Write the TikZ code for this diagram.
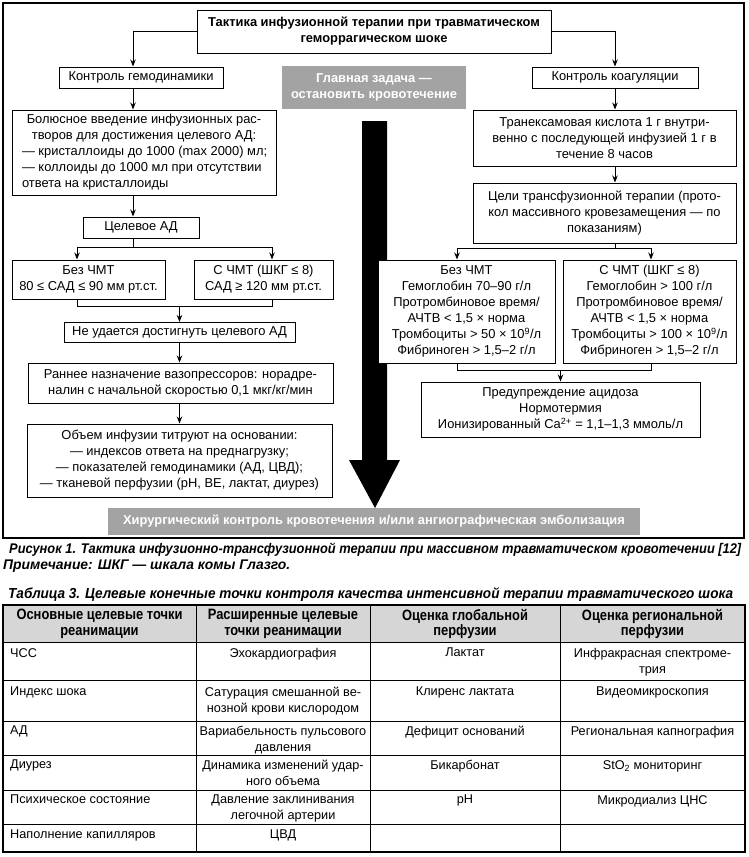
\documentclass[tikz,border=0pt]{standalone}
\usepackage{graphicx}
\usepackage{fontspec}
\setmainfont{Liberation Sans}
\newfontfamily\condfont[FakeStretch=0.86]{Liberation Sans}
\usetikzlibrary{arrows.meta}
\definecolor{bargray}{RGB}{163,163,163}
\definecolor{headgray}{RGB}{214,214,214}
\tikzset{
  box/.style={draw, line width=1pt, fill=white, inner sep=1pt, align=center,
    font=\fontsize{12.9}{16}\selectfont},
  graybox/.style={fill=bargray, text=white, inner sep=0pt, align=center,
    font=\bfseries\fontsize{12.9}{16}\selectfont},
  conn/.style={line width=0.9pt},
  arr/.style={conn, -{Stealth[length=7pt,width=5.5pt]}},
  grid/.style={line width=0.9pt},
  cell/.style={inner sep=0pt, align=center, anchor=north, font=\fontsize{12.7}{16}\selectfont},
  lcell/.style={inner sep=0pt, align=left, anchor=north west, font=\fontsize{12.7}{16}\selectfont},
  hcell/.style={inner sep=0pt, align=center, font=\condfont\bfseries\fontsize{15}{15.5}\selectfont},
  captxt/.style={inner sep=0pt, anchor=base west, font=\condfont\bfseries\itshape\fontsize{14}{16}\selectfont}
}
\begin{document}
\begin{tikzpicture}[x=1pt,y=-1pt]
\useasboundingbox (0,0) rectangle (749,857);
\fill[white] (0,0) rectangle (749,857);
% frame
\draw[line width=1.1pt] (3,3) rectangle (744,538);
% big arrow
\fill[black] (362,121) -- (387,121) -- (387,460) -- (400,460) -- (375,508) -- (349,460) -- (362,460) -- cycle;

% nodes
\node[box, font=\bfseries\fontsize{12.9}{16}\selectfont, minimum width=354pt, minimum height=43pt] (title) at (374,31.5)
  {Тактика инфузионной терапии при травматическом\\геморрагическом шоке};
\node[box, minimum width=164pt, minimum height=21pt] (hemo) at (141,77.5) {Контроль гемодинамики};
\node[graybox, minimum width=184pt, minimum height=43pt] (goal) at (374,87.5) {Главная задача —\\остановить кровотечение};
\node[box, minimum width=166pt, minimum height=21pt] (coag) at (615,77.5) {Контроль коагуляции};
\node[box, minimum width=264pt, minimum height=85pt] (bolus) at (144,152.5)
  {Болюсное введение инфузионных рас-\\творов для достижения целевого АД:\\
   \makebox[244pt][l]{— кристаллоиды до 1000 (max 2000) мл;}\\
   \makebox[244pt][l]{— коллоиды до 1000 мл при отсутствии}\\
   \makebox[244pt][l]{ответа на кристаллоиды}};
\node[box, minimum width=116pt, minimum height=21pt] (target) at (141,227.5) {Целевое АД};
\node[box, minimum width=153pt, minimum height=39pt] (nL) at (88.5,279.5) {Без ЧМТ\\80 ≤ САД ≤ 90 мм рт.ст.};
\node[box, minimum width=139pt, minimum height=39pt] (tL) at (263.5,279.5) {С ЧМТ (ШКГ ≤ 8)\\САД ≥ 120 мм рт.ст.};
\node[box, minimum width=231pt, minimum height=20pt] (fail) at (179.5,332.5) {Не удается достигнуть целевого АД};
\node[box, minimum width=305pt, minimum height=40pt] (vaso) at (180.5,383)
  {Раннее назначение вазопрессоров: норадре-\\налин с начальной скоростью 0,1 мкг/кг/мин};
\node[box, minimum width=305pt, minimum height=73pt] (volume) at (179.5,460.5)
  {Объем инфузии титруют на основании:\\— индексов ответа на преднагрузку;\\— показателей гемодинамики (АД, ЦВД);\\— тканевой перфузии (pH, BE, лактат, диурез)};
\node[box, minimum width=263pt, minimum height=56pt] (txa) at (604.5,138)
  {Транексамовая кислота 1 г внутри-\\венно с последующей инфузией 1 г в\\течение 8 часов};
\node[box, minimum width=263pt, minimum height=60pt] (goals) at (604.5,213)
  {Цели трансфузионной терапии (прото-\\кол массивного кровезамещения — по\\показаниям)};
\node[box, minimum width=177pt, minimum height=103pt] (nR) at (466.5,311.5)
  {Без ЧМТ\\Гемоглобин 70–90 г/л\\Протромбиновое время/\\АЧТВ < 1,5 × норма\\Тромбоциты > 50 × 10\textsuperscript{9}/л\\Фибриноген > 1,5–2 г/л};
\node[box, minimum width=173pt, minimum height=103pt] (tR) at (649.5,311.5)
  {С ЧМТ (ШКГ ≤ 8)\\Гемоглобин > 100 г/л\\Протромбиновое время/\\АЧТВ < 1,5 × норма\\Тромбоциты > 100 × 10\textsuperscript{9}/л\\Фибриноген > 1,5–2 г/л};
\node[box, minimum width=279pt, minimum height=55pt] (acid) at (560.5,409.5)
  {Предупреждение ацидоза\\Нормотермия\\Ионизированный Ca\textsuperscript{2+} = 1,1–1,3 ммоль/л};
\node[graybox, minimum width=532pt, minimum height=27pt] (surg) at (374,521.5)
  {Хирургический контроль кровотечения и/или ангиографическая эмболизация};

% spine coordinates
\coordinate (sL) at (133,0);
\coordinate (sR) at (615,0);
\coordinate (aL1) at (77,0);
\coordinate (aL2) at (272,0);
\coordinate (jL) at (133,247);
\coordinate (kL) at (0,306);
\coordinate (aR1) at (457,0);
\coordinate (aR2) at (651,0);
\coordinate (jR) at (615,248);
\coordinate (kR) at (0,370);

% left connectors
\draw[arr] (title.west) -| (hemo.north -| sL);
\draw[arr] (hemo.south -| sL) -- (bolus.north -| sL);
\draw[arr] (bolus.south -| sL) -- (target.north -| sL);
\draw[conn] (target.south -| sL) -- (jL);
\draw[conn] (jL -| aL1) -- (jL -| aL2);
\draw[arr] (jL -| aL1) -- (nL.north -| aL1);
\draw[arr] (jL -| aL2) -- (tL.north -| aL2);
\draw[conn] (nL.south -| aL1) |- (kL -| aL2) -- (tL.south -| aL2);
\draw[arr] (kL -| fail.north) -- (fail.north);
\draw[arr] (fail.south) -- (vaso.north -| fail.south);
\draw[arr] (vaso.south -| fail.south) -- (volume.north -| fail.south);

% right connectors
\draw[arr] (title.east) -| (coag.north -| sR);
\draw[arr] (coag.south -| sR) -- (txa.north -| sR);
\draw[arr] (txa.south -| sR) -- (goals.north -| sR);
\draw[conn] (goals.south -| sR) -- (jR);
\draw[conn] (jR -| aR1) -- (jR -| aR2);
\draw[arr] (jR -| aR1) -- (nR.north -| aR1);
\draw[arr] (jR -| aR2) -- (tR.north -| aR2);
\draw[conn] (nR.south -| aR1) |- (kR -| aR2) -- (tR.south -| aR2);
\draw[arr] (kR -| acid.north) -- (acid.north);

% captions
\node[captxt] (cap1) at (9,553) {\resizebox{732pt}{\height}{Рисунок 1. Тактика инфузионно-трансфузионной терапии при массивном травматическом кровотечении [12]}};
\node[captxt] (cap2) at (3,569) {\resizebox{287pt}{\height}{Примечание: ШКГ — шкала комы Глазго.}};
\node[captxt, font=\condfont\bfseries\itshape\fontsize{14.5}{16}\selectfont] (tabtitle) at (8,598) {\resizebox{725pt}{\height}{Таблица 3. Целевые конечные точки контроля качества интенсивной терапии травматического шока}};

% table
\fill[headgray] (3,605) rectangle (745,642);
\foreach \yy in {642,680,721,755,790,824} \draw[grid] (3,\yy) -- (745,\yy);
\foreach \xx in {196,370,560} \draw[grid] (\xx,605) -- (\xx,852);
\draw[line width=1.1pt] (3,605) rectangle (745,852);

\node[hcell] (h1) at (99.5,624) {Основные целевые точки\\реанимации};
\node[hcell] (h2) at (283,624) {Расширенные целевые\\точки реанимации};
\node[hcell] (h3) at (465,624) {Оценка глобальной\\перфузии};
\node[hcell] (h4) at (652.5,624) {Оценка региональной\\перфузии};

% row 1
\node[lcell] (r1c1) at (10,648) {ЧСС};
\node[cell] (r1c2) at (283,648) {Эхокардиография};
\node[cell] (r1c3) at (465,648) {Лактат};
\node[cell] (r1c4) at (652.5,648) {Инфракрасная спектроме-\\трия};
% row 2
\node[lcell] (r2c1) at (10,687) {Индекс шока};
\node[cell] (r2c2) at (283,687) {Сатурация смешанной ве-\\нозной крови кислородом};
\node[cell] (r2c3) at (465,687) {Клиренс лактата};
\node[cell] (r2c4) at (652.5,687) {Видеомикроскопия};
% row 3
\node[lcell] (r3c1) at (10,726) {АД};
\node[cell] (r3c2) at (283,726) {Вариабельность пульсового\\давления};
\node[cell] (r3c3) at (465,726) {Дефицит оснований};
\node[cell] (r3c4) at (652.5,726) {Региональная капнография};
% row 4
\node[lcell] (r4c1) at (10,760) {Диурез};
\node[cell] (r4c2) at (283,760) {Динамика изменений удар-\\ного объема};
\node[cell] (r4c3) at (465,760) {Бикарбонат};
\node[cell] (r4c4) at (652.5,760) {StO\textsubscript{2} мониторинг};
% row 5
\node[lcell] (r5c1) at (10,795) {Психическое состояние};
\node[cell] (r5c2) at (283,795) {Давление заклинивания\\легочной артерии};
\node[cell] (r5c3) at (465,795) {pH};
\node[cell] (r5c4) at (652.5,795) {Микродиализ ЦНС};
% row 6
\node[lcell] (r6c1) at (10,830) {Наполнение капилляров};
\node[cell] (r6c2) at (283,830) {ЦВД};
\end{tikzpicture}
\end{document}
